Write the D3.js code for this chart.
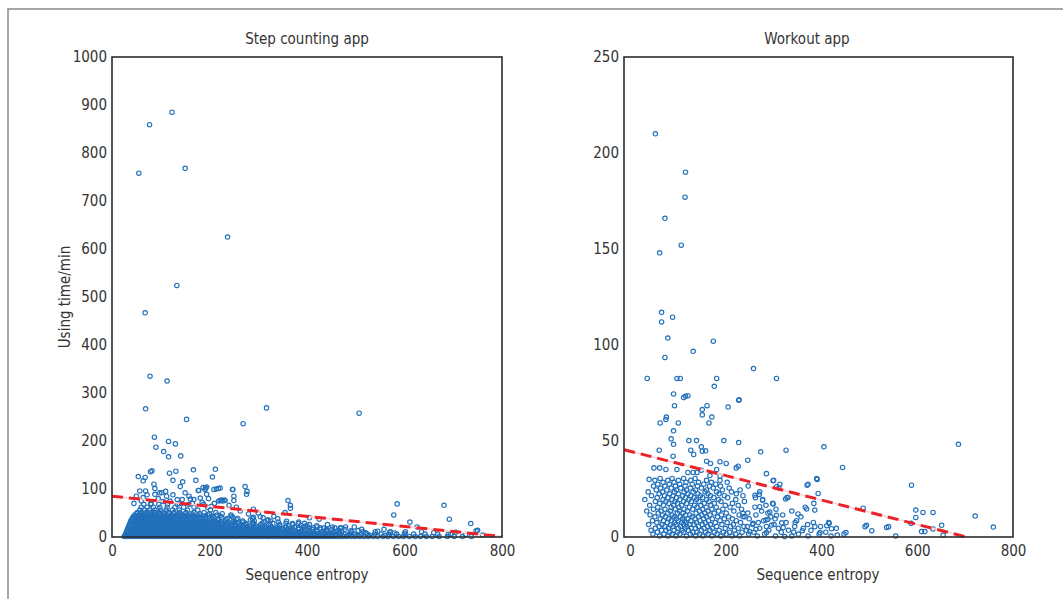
<!DOCTYPE html>
<html>
<head>
<meta charset="utf-8">
<script src="https://cdn.jsdelivr.net/npm/d3@7"></script>
<style>
  body { margin: 0; background: #fff; }
  svg text { font-family: "Liberation Sans Narrow", "DejaVu Sans Condensed", "Noto Sans", sans-serif; fill: #333; }
</style>
</head>
<body>
<script>
// ---- data ----
const xTicks = [0, 200, 400, 600, 800];
const stepYTicks = [0, 100, 200, 300, 400, 500, 600, 700, 800, 900, 1000];
const workoutYTicks = [0, 50, 100, 150, 200, 250];

// step counting app: scattered points [entropy, minutes]
const stepPoints = [
  [55,758],[77,859],[123,885],[150,768],[237,625],[133,524],[68,467],[78,335],[113,325],[69,267],
  [153,245],[269,236],[317,269],[507,258],[87,208],[90,187],[116,199],[130,194],[106,178],[116,167],
  [141,169],[54,126],[79,136],[82,138],[118,133],[131,137],[125,118],[140,105],[145,115],[167,140],
  [172,118],[212,141],[206,125],[192,102],[178,97],[214,100],[222,102],[247,99],[250,85],[273,105],
  [277,95],[361,76],[366,66],[585,69],[578,46],[681,66],[692,37],[736,28],[611,31],[747,13],
  [626,21],[750,14],[57,96],[69,96],[64,82],[88,89],[98,92],[112,85],[105,74],[119,75],
  [134,78],[144,78],[161,79],[168,78],[181,81],[194,89],[204,64],[219,75],[224,77],[230,77],
  [263,54],[290,58],[304,42],[310,40],[332,43],[358,33],[382,28],[394,22],[413,19],[427,19],
  [457,19],[468,19],[479,21],[355,51],[405,40],[425,37],[64,117],[68,124],[86,110],[88,101],
  [102,92],[177,97],[187,103],[191,99],[194,104],[209,99],[218,101],[248,99],[276,89],[250,76],
  [366,60],[222,76],[227,75],[232,76],[45,70],[50,85],[60,75],[72,88],[80,70],[95,80],
  [110,95],[125,88],[138,70],[150,92],[158,85],[165,70],[185,72],[198,80],[210,70],[240,66],
  [255,62],[280,48],[300,50],[320,34],[340,38],[370,28],[400,24],[440,16],[460,12],[490,13],
  [520,9],[545,12],[570,10],[600,8],[635,11],[660,9],[690,6],[705,10],[725,5],[760,4]
];
// step counting app: dense band, rows of [minutes, entropies]
const stepRows = [
  [1, [25,31,37,44,50,57,63,70,76,83,89,96,102,109,115,122,128,135,141,148,154,161,167,174,180,187,193,200,206,213,219,226,232,239,245,252,258,265,271,278,284,291,297,304,310,317,323,330,336,343,349,356,362,369,375,382,388,395,401,408,414,421,427,434,440,447,453,460,467,474,482,491,499,508,517,526,536,545,556,566,577,588,598,610,622,633,645,657,671,688,702,719,737]],
  [3.5, [27,34,40,47,53,60,66,73,79,86,92,99,105,112,118,125,131,138,144,151,157,164,170,177,183,190,196,203,209,216,222,229,235,242,248,255,261,268,274,281,287,294,300,307,313,320,326,333,339,346,352,359,365,372,378,385,391,398,404,411,417,424,430,437,444,452,461,472,485,503,528,560]],
  [6, [28,34,41,47,54,60,67,73,80,86,93,99,106,112,119,125,132,138,145,151,158,164,171,177,184,190,197,203,210,216,223,229,236,242,249,255,262,268,275,281,288,294,301,307,314,320,327,333,340,346,353,359,366,372,379,385,392,398,405,411,418,424,431,437,444,451,458,466,476,487,499,512,524,539,552,568,584,601,619,642,668,695]],
  [8.5, [29,35,42,48,55,61,68,74,81,87,94,100,107,113,120,126,133,139,146,152,159,165,172,178,185,191,198,204,211,217,224,230,237,243,250,256,263,269,276,282,289,295,302,308,315,321,328,334,341,347,354,360,367,374,381,389,397,406,415,425,437,450,466,489,520,580]],
  [11, [30,37,43,50,56,63,69,76,82,89,95,102,108,115,121,128,134,141,147,154,160,167,173,180,186,193,199,206,212,219,225,232,238,245,251,258,264,271,277,284,290,297,303,310,316,323,329,336,342,349,356,363,370,378,386,394,403,412,421,431,442,455,471,492,515,540,571,602]],
  [13.5, [31,38,44,51,57,64,70,77,83,90,96,103,109,116,122,129,135,142,148,155,161,168,174,181,187,194,200,207,213,220,226,233,239,246,252,259,265,272,278,285,292,299,306,313,321,329,337,346,355,365,376,389,404,420,440,466,505]],
  [16, [32,39,45,52,58,65,71,78,84,91,97,104,110,117,123,130,136,143,149,156,162,169,175,182,188,195,201,208,214,221,227,234,240,247,253,260,266,273,280,287,294,301,308,316,324,332,341,350,360,371,383,396,410,428,451,478,512,558]],
  [18.5, [33,40,46,53,59,66,72,79,85,92,98,105,111,118,124,131,137,144,150,157,163,170,176,183,189,196,202,209,215,222,228,235,242,249,256,263,270,278,286,295,304,314,325,337,350,365,383,405,435,470]],
  [21, [34,41,47,54,60,67,73,80,86,93,99,106,112,119,125,132,138,145,151,158,164,171,177,184,190,197,203,210,217,224,231,238,245,252,260,268,276,285,294,304,315,327,340,356,374,393,420,452,497]],
  [23.5, [35,42,48,55,61,68,74,81,87,94,100,107,113,120,126,133,139,146,152,159,165,172,178,185,192,199,206,213,220,228,236,244,253,262,272,283,295,309,325,343,362,388,420]],
  [26, [36,43,49,56,62,69,75,82,88,95,101,108,114,121,127,134,140,147,153,160,166,173,180,187,194,201,209,217,225,234,243,253,264,276,290,305,322,344,371,405,442]],
  [28.5, [37,44,50,57,63,70,76,83,89,96,102,109,115,122,128,135,141,148,155,162,169,176,183,191,199,208,217,227,237,248,260,274,290,308,330,357,395]],
  [31, [38,45,51,58,64,71,77,84,90,97,103,110,116,123,129,136,142,149,156,163,170,178,186,195,204,214,225,238,252,269,289,312,341,383]],
  [33.5, [39,46,52,59,65,72,78,85,91,98,104,111,117,124,131,138,145,152,160,168,177,186,196,207,219,233,249,268,292,325]],
  [36, [40,47,53,60,66,73,79,86,92,99,105,112,118,125,132,139,146,154,162,171,180,191,203,217,234,255,284,320]],
  [38.5, [42,49,55,62,68,75,81,88,94,101,108,115,122,129,136,144,152,161,170,180,191,204,218,236,258,288]],
  [41, [43,50,57,63,70,76,83,89,96,103,110,117,124,132,140,149,158,168,179,192,207,225,248,290]],
  [43.5, [45,52,59,66,72,79,86,93,100,107,114,122,130,138,147,156,166,177,190,205,222,245]],
  [46, [47,55,62,69,76,84,91,99,107,115,124,133,143,154,166,180,196,216,244]],
  [48.5, [50,58,66,74,82,90,99,108,117,127,138,150,164,180,200,226]],
  [51, [52,61,70,78,87,96,106,116,127,139,152,168,189,213]],
  [56, [57,67,77,88,99,111,124,138,155,176,202]],
  [62, [60,72,85,98,113,129,147,168,196]],
  [68, [65,80,96,114,134,158,188]]
];

// workout app: scattered points
const workoutPoints = [
  [53,210],[116,190],[115,177],[73,166],[107,152],[62,148],[66,117],[89,114.5],[66,112],[79,103.6],
  [174,102],[73,93.5],[132,96.7],[258,87.7],[36,82.6],[98,82.6],[105,82.6],[181,82.6],[306,82.6],[176,78.5],
  [91,74.5],[112,72.6],[116,73.3],[121,73.6],[228,71.5],[93,68.4],[151,66.4],[161,68.4],[205,67.7],[227,71.2],
  [151,63.6],[171,62.5],[63,59.4],[75,61.2],[76,62.5],[101,59.4],[165,59.4],[91,55.3],[86,51.1],[91,48.3],
  [123,50.2],[139,50.2],[196,50.2],[227,49.2],[127,45.2],[133,43],[149,47],[158,44.9],[151,44.7],[61,45.2],
  [90,42.1],[273,44.4],[326,45.2],[160,39.5],[168,38.3],[188,39.2],[201,38.3],[246,40],[50,36],[62,36],
  [75,35.2],[98,35.2],[121,33.6],[132,33.6],[140,33.6],[149,34.8],[181,35.2],[167,32],[188,31.7],[222,36],
  [226,36.9],[40,30],[285,33],[299,29.3],[370,27],[391,30],[686,48.3],[721,10.9],[759,5.2],[588,27],
  [597,14],[597,10.2],[612,12.8],[633,12.8],[651,6.1],[633,4.2],[609,2.8],[616,2.8],[654,1],[587,7.1],
  [536,5],[540,5.4],[555,0.5],[505,3.3],[491,5.4],[494,6.1],[487,15],[444,36.2],[405,47],[393,22.7],
  [386,14],[383,7.6],[386,5.4],[397,2.3],[416,7.1],[421,4.3],[433,1],[451,2.3],[411,5.9],[351,12],
  [369,14.6],[345,7.5],[360,3.3],[342,2.6],[325,19.8],[330,20.6],[313,27.5],[306,26.2],[299,17.2],[320,4.9],
  [317,7.4],[284,8.8],[288,9.2],[292,13],[306,11.3],[296,6.2],[271,15.8],[277,19.2],[261,21.7],[270,22.2],
  [257,7.1],[263,4],[245,5.4],[250,2.8],[240,10.6],[236,12.3],[285,2.3],[323,0.2]
];
// workout app: low cluster, rows of [minutes, entropies]
const workoutRows = [
  [0.5, [62,79,96,118,137,152,171,190,213,229,266,304,338,372,420]],
  [1.5, [48,71,88,104,126,145,163,182,201,221,248,281,352,395,447]],
  [2.5, [57,83,99,112,131,140,158,176,195,208,234,259,316,409]],
  [3.5, [44,66,75,92,109,122,149,167,186,218,243,290,331,378]],
  [4.5, [53,80,101,115,128,137,155,172,199,226,271,310,362,431]],
  [5.5, [61,73,90,106,119,143,162,181,210,238,285,344,398]],
  [6.5, [39,67,85,96,112,124,134,151,168,192,216,256,301,371]],
  [7.5, [56,78,93,108,117,139,157,178,203,231,268,326,415]],
  [8.5, [47,70,86,101,114,127,146,164,188,222,279,348]],
  [9.5, [63,81,97,110,121,136,154,172,197,214,249,303]],
  [10.5, [52,74,92,105,130,143,160,183,206,236,294,357]],
  [11.5, [42,68,88,116,125,150,167,191,228,263,319]],
  [12.5, [59,79,99,111,138,156,176,201,246,288]],
  [13.5, [35,65,84,103,120,145,163,185,217,275,338]],
  [14.5, [49,73,95,113,131,152,171,194,233,305]],
  [15.5, [58,86,102,124,140,159,180,209,261,366]],
  [16.5, [41,70,91,108,135,148,169,199,226,284]],
  [17.5, [62,81,99,118,155,176,214,298,384]],
  [18.5, [53,75,94,112,128,144,165,190,239]],
  [19.5, [31,69,88,104,123,139,160,185,221,277]],
  [20.5, [57,79,97,116,134,152,175,204,262,328]],
  [21.5, [45,72,90,110,127,147,168,197,236]],
  [22.5, [61,83,101,121,142,163,186,222]],
  [23.5, [38,68,93,113,132,157,181,212,271]],
  [24.5, [55,77,97,118,137,160,193,230]],
  [25.5, [64,86,106,126,149,174,207,311]],
  [26.5, [49,73,95,115,141,166,189,247]],
  [27.5, [58,82,104,130,154,179,372]],
  [28.5, [69,92,117,143,170,203]],
  [29.5, [52,79,101,127,160,188,300]],
  [30.5, [63,88,112,136,390]]
];

// fitted trend lines: [intercept, slope], drawn over [x0, x1]
const stepFit = [85, -0.105];
const stepFitRange = [0, 800];
const workoutFit = [44.7, -0.0636];
const workoutFitRange = [-12, 703];

// ---- drawing ----
const W = 1063, H = 599;
const svg = d3.select('body').append('svg')
  .attr('width', W)
  .attr('height', H);

// outer frame (only left and top edges are visible)
svg.append('path')
  .attr('d', 'M8,' + H + 'V9H' + W)
  .attr('fill', 'none')
  .attr('stroke', '#8a8a8a')
  .attr('stroke-width', 1.5);

function expandRows(rows) {
  return rows.flatMap(r => r[1].map(x => [x, r[0]]));
}

function panel(cfg) {
  const x = d3.scaleLinear().domain(cfg.xDomain).range([cfg.left, cfg.right]);
  const y = d3.scaleLinear().domain(cfg.yDomain).range([537, 57]);
  const g = svg.append('g');

  const pts = expandRows(cfg.rows).concat(cfg.points);
  g.append('g').selectAll('circle')
    .data(pts)
    .enter().append('circle')
    .attr('cx', d => x(d[0]))
    .attr('cy', d => y(d[1]))
    .attr('r', 2.2)
    .attr('fill', 'none')
    .attr('stroke', '#2270bb')
    .attr('stroke-width', 1.15);

  // trend line
  const fit = cfg.fitRange.map(v => [v, cfg.fit[0] + cfg.fit[1] * v]);
  const line = d3.line().x(d => x(d[0])).y(d => y(d[1]));
  g.append('path').attr('d', line(fit))
    .attr('fill', 'none').attr('stroke', '#fbd3d8').attr('stroke-width', 1.5);
  g.append('path').attr('d', line(fit))
    .attr('fill', 'none').attr('stroke', '#ec2229').attr('stroke-width', 3)
    .attr('stroke-dasharray', '11,6');

  // axes, labels only
  const ax = g.append('g').attr('transform', 'translate(0,537)')
    .call(d3.axisBottom(x).tickValues(xTicks).tickFormat(d3.format('d')).tickSize(0).tickPadding(8));
  const ay = g.append('g').attr('transform', 'translate(' + cfg.left + ',0)')
    .call(d3.axisLeft(y).tickValues(cfg.yTicks).tickFormat(d3.format('d')).tickSize(0).tickPadding(5));
  [ax, ay].forEach(a => {
    a.select('.domain').remove();
    a.selectAll('text').attr('font-size', 15).attr('font-family', null).attr('fill', '#333');
  });

  // box
  g.append('rect')
    .attr('x', cfg.left).attr('y', 57)
    .attr('width', cfg.right - cfg.left).attr('height', 480)
    .attr('fill', 'none').attr('stroke', '#2b2b2b').attr('stroke-width', 1.6);

  g.append('text').attr('x', cfg.titleX).attr('y', 44)
    .attr('text-anchor', 'middle').attr('font-size', 15)
    .text(cfg.title);
  g.append('text').attr('x', cfg.xLabelX).attr('y', 580)
    .attr('text-anchor', 'middle').attr('font-size', 15)
    .text('Sequence entropy');
}

panel({
  left: 112, right: 502, xDomain: [0, 800], yDomain: [0, 1000],
  yTicks: stepYTicks, points: stepPoints, rows: stepRows,
  fit: stepFit, fitRange: stepFitRange,
  title: 'Step counting app', titleX: 307, xLabelX: 307
});
panel({
  left: 624, right: 1013, xDomain: [-12.5, 800], yDomain: [0, 250],
  yTicks: workoutYTicks, points: workoutPoints, rows: workoutRows,
  fit: workoutFit, fitRange: workoutFitRange,
  title: 'Workout app', titleX: 807, xLabelX: 818
});

svg.append('text')
  .attr('transform', 'translate(70,297) rotate(-90)')
  .attr('text-anchor', 'middle').attr('font-size', 15)
  .text('Using time/min');
</script>
</body>
</html>
